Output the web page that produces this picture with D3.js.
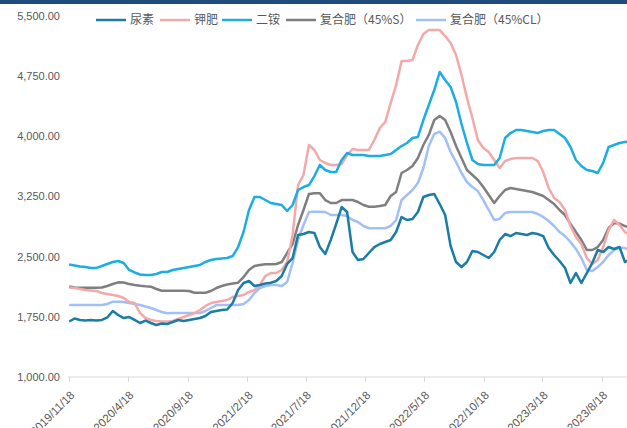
<!DOCTYPE html>
<html>
<head>
<meta charset="utf-8">
<script src="https://cdn.jsdelivr.net/npm/d3@7/dist/d3.min.js"></script>
<style>
  html, body { margin: 0; padding: 0; background: #fff; }
  svg { display: block; }
</style>
</head>
<body>
<svg id="chart" width="627" height="428"></svg>
<script>
// ---- data ----
const startDate = "2019/11/18";   // first observation, one point every 14 days
const stepDays = 14;
const xTickLabels = ["2019/11/18","2020/4/18","2020/9/18","2021/2/18","2021/7/18","2021/12/18","2022/5/18","2022/10/18","2023/3/18","2023/8/18"];
const yTicks = [1000, 1750, 2500, 3250, 4000, 4750, 5500];
const seriesNames = ["尿素", "钾肥", "二铵", "复合肥（45%S）", "复合肥（45%CL）"];
const seriesColors = ["#1b7ca6", "#f4a9a9", "#1cade2", "#7f7f7f", "#a2bff6"];

const urea = [1692,1729,1711,1704,1711,1704,1711,1742,1823,1773,1735,1748,1711,1673,1704,1673,1648,1667,1661,1686,
  1711,1698,1711,1723,1735,1760,1810,1823,1835,1841,1922,2084,2172,2197,2134,2147,2165,2175,2197,2259,
  2409,2483,2770,2782,2807,2795,2620,2533,2708,2907,3119,3057,2558,2458,2471,2546,2620,2658,2683,2708,
  2807,2994,2957,2970,3057,3244,3269,3281,3156,3019,2633,2433,2371,2433,2571,2558,2521,2483,2558,2708,
  2782,2757,2795,2782,2770,2795,2782,2757,2608,2521,2446,2359,2172,2296,2172,2296,2421,2583,2558,2620,
  2595,2620,2433,2471];
const potash = [2116,2109,2097,2084,2078,2072,2047,2035,2022,2010,1985,1935,1922,1798,1735,1711,1698,1692,1692,1698,
  1723,1748,1773,1798,1835,1885,1922,1935,1947,1960,1997,2010,2022,2060,2084,2147,2259,2296,2296,2334,
  2433,2770,3393,3518,3892,3830,3705,3667,3643,3643,3655,3767,3842,3830,3830,3830,3954,4104,4179,4415,
  4640,4939,4939,4951,5138,5275,5325,5325,5325,5250,5163,5014,4764,4478,4228,3954,3855,3805,3705,3605,
  3692,3717,3730,3730,3730,3730,3692,3555,3356,3231,3181,3082,2882,2745,2658,2483,2409,2458,2620,2832,
  2957,2895,2807,2770];
const dap = [2402,2390,2377,2371,2360,2360,2384,2409,2434,2446,2421,2334,2303,2278,2271,2271,2284,2309,2309,2334,
  2346,2359,2371,2384,2396,2434,2458,2471,2477,2483,2508,2620,2807,3082,3244,3244,3206,3169,3156,3144,
  3069,3144,3331,3368,3393,3505,3643,3580,3555,3555,3705,3792,3767,3767,3767,3755,3755,3755,3767,3780,
  3830,3879,3917,3979,3992,4203,4390,4577,4802,4702,4615,4428,4154,3917,3705,3655,3643,3643,3643,3730,
  3979,4041,4079,4079,4066,4054,4041,4066,4079,4079,4029,3979,3867,3705,3630,3580,3568,3543,3668,3867,
  3892,3917,3929,3935];
const npkS = [2128,2116,2113,2113,2113,2113,2116,2134,2159,2180,2178,2159,2147,2138,2131,2126,2097,2076,2076,2076,
  2076,2076,2072,2051,2051,2051,2072,2109,2134,2153,2165,2175,2246,2334,2384,2396,2405,2405,2409,2433,
  2546,2658,2895,3082,3281,3290,3290,3206,3169,3169,3206,3206,3206,3181,3144,3123,3123,3131,3144,3256,
  3306,3543,3580,3630,3730,3892,4017,4203,4253,4203,4054,3879,3730,3580,3518,3456,3368,3269,3169,3256,
  3331,3356,3343,3331,3318,3306,3281,3256,3206,3156,3082,3019,2907,2807,2708,2583,2583,2620,2708,2857,
  2920,2913,2882,2857];
const npkCL = [1897,1897,1897,1897,1897,1897,1897,1910,1939,1939,1935,1922,1910,1897,1879,1860,1835,1810,1794,1798,
  1798,1798,1798,1798,1798,1823,1860,1897,1897,1897,1897,1897,1910,1960,2047,2109,2134,2147,2147,2134,
  2184,2421,2708,2895,3057,3060,3060,3057,3019,3019,3019,3007,2957,2932,2882,2854,2854,2854,2854,2882,
  2957,3206,3269,3331,3418,3605,3879,4029,4058,3979,3805,3680,3543,3431,3368,3318,3206,3082,2957,2970,
  3044,3057,3057,3057,3057,3057,3032,2995,2945,2882,2807,2758,2683,2596,2483,2334,2321,2371,2433,2521,
  2583,2614,2608,2571];

// ---- chart ----
const W = 627, H = 428;
const svg = d3.select("#chart");
const parse = d3.timeParse("%Y/%m/%d");
const t0 = parse(startDate);
const dates = urea.map((_, i) => d3.timeDay.offset(t0, i * stepDays));
const tickDates = xTickLabels.map(parse);

const x = d3.scaleTime()
  .domain([tickDates[0], tickDates[tickDates.length - 1]])
  .range([69.2, 602]);
const y = d3.scaleLinear().domain([1000, 5500]).range([377, 16]);

// top bar
svg.append("rect").attr("x", 0).attr("y", 0).attr("width", W).attr("height", 4).attr("fill", "#1f4a7c");

// y axis labels
const fmt = d3.format(",.2f");
svg.append("g").selectAll("text").data(yTicks).join("text")
  .attr("x", 60).attr("y", d => y(d)).attr("dy", "0.35em")
  .attr("text-anchor", "end")
  .attr("font-family", "Liberation Sans, Arial, sans-serif")
  .attr("font-size", 11).attr("fill", "#595959")
  .text(d => fmt(d));

// x axis
const xAxis = svg.append("g").attr("transform", "translate(0,377)");
xAxis.append("line").attr("x1", 68).attr("x2", W).attr("y1", 0).attr("y2", 0)
  .attr("stroke", "#d9d9d9").attr("stroke-width", 1);
xAxis.selectAll("line.tick").data(tickDates).join("line").attr("class", "tick")
  .attr("x1", d => Math.round(x(d)) + 0.5).attr("x2", d => Math.round(x(d)) + 0.5)
  .attr("y1", 0).attr("y2", 5).attr("stroke", "#d9d9d9");
xAxis.selectAll("text").data(tickDates).join("text")
  .attr("transform", d => `translate(${x(d) + 6},${19}) rotate(-45)`)
  .attr("text-anchor", "end")
  .attr("font-family", "Liberation Sans, Arial, sans-serif")
  .attr("font-size", 11.5).attr("fill", "#595959")
  .text((d, i) => xTickLabels[i]);

// lines
svg.append("clipPath").attr("id", "clip").append("rect")
  .attr("x", 0).attr("y", 0).attr("width", W).attr("height", H);
const allSeries = [urea, potash, dap, npkS, npkCL];
const line = d3.line().x((d, i) => x(dates[i])).y(d => y(d));
const drawOrder = [4, 3, 1, 2, 0];
const g = svg.append("g").attr("clip-path", "url(#clip)");
drawOrder.forEach(k => {
  g.append("path").datum(allSeries[k])
    .attr("fill", "none").attr("stroke", seriesColors[k])
    .attr("stroke-width", 2.5).attr("stroke-linejoin", "round")
    .attr("d", line);
});

// legend
const legendX = [96, 160, 222, 286, 416];
const lg = svg.append("g");
seriesNames.forEach((name, k) => {
  lg.append("line").attr("x1", legendX[k]).attr("x2", legendX[k] + 30)
    .attr("y1", 20).attr("y2", 20).attr("stroke", seriesColors[k]).attr("stroke-width", 2.5);
  lg.append("text").attr("x", legendX[k] + 34).attr("y", 20).attr("dy", "0.36em")
    .attr("font-family", "Noto Sans CJK SC, sans-serif")
    .attr("font-size", 12).attr("fill", "#595959").text(name);
});
</script>
</body>
</html>
